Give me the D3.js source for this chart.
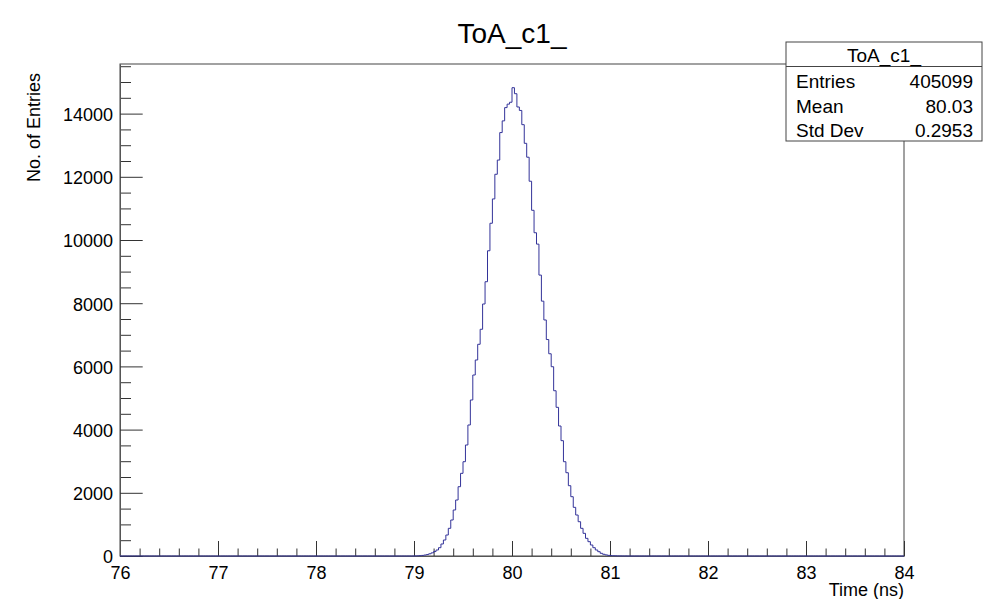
<!DOCTYPE html>
<html>
<head>
<meta charset="utf-8">
<script src="https://cdn.jsdelivr.net/npm/d3@7"></script>
<style>
  body { margin: 0; background: #fff; }
  svg { display: block; font-family: "Liberation Sans", Arial, sans-serif; }
</style>
</head>
<body>
<svg id="chart" width="992" height="599"></svg>
<script>
// histogram binning (ns)
var histRange = [76, 84];
var binWidth = 0.025;
var firstFilled = 79.0; // low edge of first non-empty bin
// counts of the non-empty bins
var counts = [
  2, 5, 10, 18, 30, 45, 70, 100, 140, 190,
  263, 380, 506, 664, 876, 1139, 1456, 1772, 2193, 2616,
  2984, 3513, 4146, 4937, 5728, 6203, 6700, 7175, 7975, 8680,
  9660, 10530, 11300, 12080, 12530, 13400, 13770, 14190, 14300, 14360,
  14820, 14630, 14210, 14100, 13650, 13060, 12620, 11860, 10940, 10230,
  9870, 8890, 8065, 7470, 6850, 6400, 5990, 5230, 4705, 4114,
  3650, 2984, 2636, 2225, 1877, 1540, 1297, 1085, 876, 717,
  559, 453, 348, 263, 190, 136, 85, 54, 35, 20,
  12, 8, 5, 3, 2, 1, 1
];
var yMax = 15570;
var xMajor = [76, 77, 78, 79, 80, 81, 82, 83, 84];
var yMajor = [0, 2000, 4000, 6000, 8000, 10000, 12000, 14000];
var statLabels = ["Entries", "Mean", "Std Dev"];
var statValues = ["405099", "80.03", "0.2953"];
var histName = "ToA_c1_";

var fLeft = 120, fRight = 904, fTop = 64, fBottom = 556;
var svg = d3.select("#chart");

var x = d3.scaleLinear().domain(histRange).range([fLeft, fRight]);
var y = d3.scaleLinear().domain([0, yMax]).range([fBottom, fTop]);

// build step points over the full axis range
var nBins = Math.round((histRange[1] - histRange[0]) / binWidth);
var offset = Math.round((firstFilled - histRange[0]) / binWidth);
var pts = [];
for (var i = 0; i < nBins; i++) {
  var c = (i >= offset && i < offset + counts.length) ? counts[i - offset] : 0;
  pts.push([histRange[0] + i * binWidth, c]);
}
pts.push([histRange[1], 0]);

// frame
svg.append("rect")
  .attr("x", fLeft).attr("y", fTop)
  .attr("width", fRight - fLeft).attr("height", fBottom - fTop)
  .attr("fill", "none").attr("stroke", "#444").attr("stroke-width", 1);

// minor ticks
var xMinor = d3.range(76, 84.001, 0.2).filter(function(v) { return Math.abs(v - Math.round(v)) > 0.01; });
var yMinor = d3.range(0, yMax, 500).filter(function(v) { return v % 2000 !== 0; });

var gx = svg.append("g").attr("transform", "translate(0," + fBottom + ")");
gx.call(d3.axisBottom(x).tickValues(xMinor).tickFormat("").tickSize(-7.5).tickSizeOuter(0));
gx.call(function(g) { g.select(".domain").remove(); });
var gx2 = svg.append("g").attr("transform", "translate(0," + fBottom + ")");
gx2.call(d3.axisBottom(x).tickValues(xMajor).tickFormat(d3.format("d")).tickSize(-15).tickSizeOuter(0).tickPadding(10));

var gy = svg.append("g").attr("transform", "translate(" + fLeft + ",0)");
gy.call(d3.axisLeft(y).tickValues(yMinor).tickFormat("").tickSize(-11).tickSizeOuter(0));
gy.call(function(g) { g.select(".domain").remove(); });
var gy2 = svg.append("g").attr("transform", "translate(" + fLeft + ",0)");
gy2.call(d3.axisLeft(y).tickValues(yMajor).tickFormat(d3.format("d")).tickSize(-22.7).tickSizeOuter(0).tickPadding(7));
gy2.selectAll(".tick text").attr("dy", "0.38em");

svg.selectAll(".tick line").attr("stroke", "#333");
svg.selectAll(".domain").attr("stroke", "#555");
svg.selectAll(".tick text").attr("font-size", 18).attr("fill", "#000")
  .attr("font-family", "Liberation Sans, Arial, sans-serif");

// histogram outline
var line = d3.line()
  .x(function(d) { return x(d[0]); })
  .y(function(d) { return y(d[1]); })
  .curve(d3.curveStepAfter);
svg.append("path")
  .datum(pts)
  .attr("d", line)
  .attr("fill", "none")
  .attr("stroke", "#333399")
  .attr("stroke-width", 1);

// titles
svg.append("text").attr("x", 512).attr("y", 43)
  .attr("text-anchor", "middle").attr("font-size", 28).text(histName);
svg.append("text").attr("x", fRight).attr("y", 596)
  .attr("text-anchor", "end").attr("font-size", 18).text("Time (ns)");
svg.append("text")
  .attr("transform", "translate(40,73) rotate(-90)")
  .attr("text-anchor", "end").attr("font-size", 18).text("No. of Entries");

// stats box
var bx = 786, by = 42, bw = 196, bh = 99;
var box = svg.append("g");
box.append("rect").attr("x", bx).attr("y", by).attr("width", bw).attr("height", bh)
  .attr("fill", "#fff").attr("stroke", "#444");
box.append("line").attr("x1", bx).attr("x2", bx + bw).attr("y1", 66.5).attr("y2", 66.5)
  .attr("stroke", "#444");
box.append("text").attr("x", bx + bw / 2).attr("y", 61.5)
  .attr("text-anchor", "middle").attr("font-size", 19).text(histName);
statLabels.forEach(function(lab, i) {
  var yy = 88 + i * 24.5;
  box.append("text").attr("x", 796).attr("y", yy).attr("font-size", 19).text(lab);
  box.append("text").attr("x", 973).attr("y", yy).attr("text-anchor", "end")
    .attr("font-size", 19).text(statValues[i]);
});
</script>
</body>
</html>
